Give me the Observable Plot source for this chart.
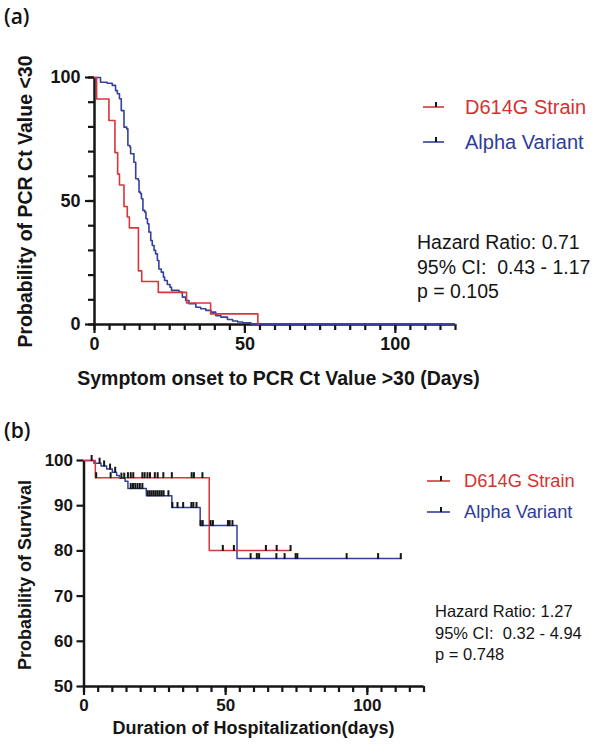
<!DOCTYPE html>
<html>
<head>
<meta charset="utf-8">
<script src="https://cdn.jsdelivr.net/npm/d3@7"></script>
<script src="https://cdn.jsdelivr.net/npm/@observablehq/plot@0.6"></script>
<style>
  body { margin: 0; background: #fff; }
  #wrap { position: relative; width: 600px; height: 755px; overflow: hidden; font-family: "Liberation Sans", Arial, sans-serif; }
  .abs { position: absolute; white-space: pre; }
  .panel { font-family: "Open Sans", "Liberation Sans", sans-serif; font-weight: 600; font-size: 21px; color: #111; }
</style>
</head>
<body>
<div id="wrap"></div>
<script>
// ---------- Panel (a): Symptom onset to PCR Ct > 30 ----------
const aRedDays  = [0, 0.7, 4.8, 6.8, 7.7, 8.3, 9.8, 10.9, 11.6, 14.6, 15.7, 21.2, 30.6, 38.6, 54.3];
const aRedSurv  = [100, 91.3, 82.6, 69.6, 60.9, 56.5, 47.8, 43.5, 39.1, 21.7, 17.4, 13.0, 8.7, 4.3, 0];
const aBlueDays = [0, 2, 4.2, 5.9, 7, 7.6, 8.3, 8.9, 9.8, 10.7, 11.1, 11.8, 12, 13.1, 13.7, 14.6, 14.8, 15.3, 15.6, 16.1, 16.7, 17.1, 17.6, 18.1, 18.7, 19.2, 19.8, 20.3, 20.9, 21.4, 22.2, 22.9, 23.3, 24.2, 25.1, 25.6, 28.1, 29.2, 30.3, 31.4, 33.7, 35.3, 37, 38.7, 40.3, 42, 44.2, 45.9, 47.6, 49.2, 52, 120];
const aBlueSurv = [100, 98.1, 97.7, 96.8, 94.7, 93.4, 91.4, 86.6, 79.9, 79.2, 72.5, 71.8, 69.1, 65.7, 59, 58.3, 53.6, 52.9, 50.9, 46.2, 45.5, 42.8, 40.8, 37.4, 34, 32, 30, 28.6, 25.9, 22.5, 21.2, 19.2, 17.8, 16.2, 15.1, 13.8, 13.1, 11.1, 9.7, 8.4, 7.0, 6.4, 5.7, 5.0, 3.6, 3.0, 2.0, 1.4, 1.0, 0.7, 0, 0];
const aXTicks = [0, 50, 100];
const aXMinor = [0, 5, 10, 15, 20, 25, 30, 35, 40, 45, 50, 55, 60, 65, 70, 75, 80, 85, 90, 95, 100, 105, 110, 115, 120];
const aYTicks = [0, 50, 100];
const aYMinor = [0, 10, 20, 30, 40, 50, 60, 70, 80, 90, 100];
const aStats = ["Hazard Ratio: 0.71", "95% CI:  0.43 - 1.17", "p = 0.105"];

// ---------- Panel (b): Survival during hospitalization ----------
const bRedDays  = [0, 4.0, 44.2, 73];
const bRedSurv  = [100, 96.2, 80.1, 80.1];
const bBlueDays = [0, 3.5, 6, 8, 10, 11.5, 12.5, 14.5, 15.5, 22, 31, 41, 54, 112];
const bBlueSurv = [100, 99.4, 98.8, 98.1, 97.4, 96.7, 96.1, 95.4, 93.8, 92.2, 89.6, 85.6, 78.3, 78.3];
const bRedCensor  = [4.3, 9.4, 15.5, 16.5, 17.4, 20.6, 21.4, 22.4, 23.3, 25, 26, 28, 31, 38, 38.8, 41.8, 49, 52.9, 64.2, 68, 72.9];
const bBlueCensor = [2.7, 5.5, 7.1, 9.2, 11, 13.2, 14.2, 16.5, 17.3, 18.1, 18.9, 19.7, 20.6, 22.5, 23.2, 23.9, 24.6, 25.3, 26, 26.7, 27.4, 28.1, 29.8, 31.2, 33, 35, 37.9, 38.6, 39.7, 41.2, 41.9, 44.7, 45.5, 50.8, 51.4, 52.4, 58.8, 61, 61.8, 67.9, 70.8, 74.7, 75.3, 92.7, 103.8, 111.8];
const bXTicks = [0, 50, 100];
const bXMinor = [0, 5, 10, 15, 20, 25, 30, 35, 40, 45, 50, 55, 60, 65, 70, 75, 80, 85, 90, 95, 100, 105, 110, 115, 120];
const bYTicks = [50, 60, 70, 80, 90, 100];
const bStats = ["Hazard Ratio: 1.27", "95% CI:  0.32 - 4.94", "p = 0.748"];

const seriesNames = ["D614G Strain", "Alpha Variant"];
const RED = "#d7363a", BLUE = "#33409c";
const RED_TXT = "#d5322f", BLUE_TXT = "#2e3c98";
const INK = "#151515";

function steps(days, surv) { return days.map((d, i) => ({day: d, surv: surv[i]})); }
function survAt(days, surv, t) { let v = surv[0]; for (let i = 0; i < days.length; i++) if (days[i] <= t) v = surv[i]; return v; }

const FONT = '"Liberation Sans", Arial, Helvetica, sans-serif';
const wrap = document.getElementById("wrap");

function addDiv(html, css, cls = "abs") {
  const d = document.createElement("div");
  d.className = cls;
  d.style.cssText = css;
  d.innerHTML = html;
  wrap.appendChild(d);
  return d;
}

// Layout: the frame is extended by `ext` px left of / below the axis lines so tick marks lie inside it.
function layout(c) {
  const pxPerX = (c.rightPx - c.axisLeftPx) / (c.xDomain[1] - c.xDomain[0]);
  const pxPerY = (c.axisBottomPx - c.topPx) / (c.yDomain[1] - c.yDomain[0]);
  const x0 = c.xDomain[0], y0 = c.yDomain[0];
  const L = {
    width: c.width, height: c.height,
    marginLeft: c.axisLeftPx - c.ext, marginRight: c.width - c.rightPx,
    marginTop: c.topPx, marginBottom: c.height - (c.axisBottomPx + c.ext),
    xDom: [x0 - c.ext / pxPerX, c.xDomain[1]],
    yDom: [y0 - c.ext / pxPerY, c.yDomain[1]]
  };
  L.xt = (vals, len) => Plot.ruleX(vals.map(v => ({v, s: y0})), {x: "v", y1: "s", y2: "s", insetTop: 0, insetBottom: -len, stroke: INK, strokeWidth: 2.2});
  L.yt = (vals, len) => Plot.ruleY(vals.map(v => ({v, s: x0})), {y: "v", x1: "s", x2: "s", insetLeft: -len, insetRight: 0, stroke: INK, strokeWidth: 2.2});
  L.axes = [
    Plot.ruleX([x0], {y1: y0, y2: c.yDomain[1], strokeWidth: 2.5, stroke: INK}),
    Plot.ruleY([y0], {x1: x0, x2: c.xDomain[1], strokeWidth: 2.5, stroke: INK})
  ];
  return L;
}

// ---------- Plot (a) ----------
const A = layout({width: 600, height: 400, axisLeftPx: 94, axisBottomPx: 324, rightPx: 455, topPx: 77, xDomain: [0, 120], yDomain: [0, 100], ext: 9});
const plotA = Plot.plot({
  width: A.width, height: A.height,
  marginLeft: A.marginLeft, marginRight: A.marginRight, marginTop: A.marginTop, marginBottom: A.marginBottom,
  x: {domain: A.xDom, label: null},
  y: {domain: A.yDom, label: null},
  style: {fontFamily: FONT, fontSize: "18px", color: INK, background: "transparent", overflow: "visible"},
  marks: [
    Plot.axisX({ticks: aXTicks, tickSize: 0, tickPadding: 4, fontWeight: "bold", fontSize: 18, label: null}),
    Plot.axisY({ticks: aYTicks, tickSize: 0, tickPadding: 5, fontWeight: "bold", fontSize: 18, label: null}),
    ...A.axes,
    A.xt(aXMinor, 6),
    A.xt(aXTicks, 9),
    A.yt(aYMinor, 6),
    A.yt(aYTicks, 9),
    Plot.line(steps(aBlueDays, aBlueSurv), {x: "day", y: "surv", stroke: BLUE, strokeWidth: 1.6, curve: "step-after"}),
    Plot.line(steps(aRedDays, aRedSurv), {x: "day", y: "surv", stroke: RED, strokeWidth: 1.6, curve: "step-after"}),
    Plot.text(["Symptom onset to PCR Ct Value >30 (Days)"], {frameAnchor: "bottom", dy: 51, dx: 8, fontWeight: "bold", fontSize: 19.5, fill: INK}),
    Plot.text(["Probability of PCR Ct Value <30"], {frameAnchor: "left", dx: -60, dy: -4, rotate: -90, textAnchor: "middle", lineAnchor: "middle", fontWeight: "bold", fontSize: 19.5, fill: INK})
  ]
});
const holderA = document.createElement("div");
holderA.style.cssText = "position:absolute;left:0;top:0;";
holderA.appendChild(plotA);
wrap.appendChild(holderA);

// ---------- Plot (b) ----------
const B = layout({width: 600, height: 355, axisLeftPx: 83.5, axisBottomPx: 286, rightPx: 423.5, topPx: 60, xDomain: [0, 120], yDomain: [50, 100], ext: 9});
const bCens = [
  ...bRedCensor.map(t => ({day: t, surv: survAt(bRedDays, bRedSurv, t)})),
  ...bBlueCensor.map(t => ({day: t, surv: survAt(bBlueDays, bBlueSurv, t)}))
];
const plotB = Plot.plot({
  width: B.width, height: B.height,
  marginLeft: B.marginLeft, marginRight: B.marginRight, marginTop: B.marginTop, marginBottom: B.marginBottom,
  x: {domain: B.xDom, label: null},
  y: {domain: B.yDom, label: null},
  style: {fontFamily: FONT, fontSize: "17px", color: INK, background: "transparent", overflow: "visible"},
  marks: [
    Plot.axisX({ticks: bXTicks, tickSize: 0, tickPadding: 3, fontWeight: "bold", fontSize: 17, label: null}),
    Plot.axisY({ticks: bYTicks, tickSize: 0, tickPadding: 2, fontWeight: "bold", fontSize: 17, label: null}),
    ...B.axes,
    B.xt(bXMinor, 6),
    B.xt(bXTicks, 9),
    B.yt(bYTicks, 7),
    Plot.line(steps(bBlueDays, bBlueSurv), {x: "day", y: "surv", stroke: BLUE, strokeWidth: 1.5, curve: "step-after"}),
    Plot.line(steps(bRedDays, bRedSurv), {x: "day", y: "surv", stroke: RED, strokeWidth: 1.5, curve: "step-after"}),
    Plot.ruleX(bCens, {x: "day", y1: "surv", y2: "surv", insetTop: -5, insetBottom: -1, stroke: INK, strokeWidth: 2}),
    Plot.text(["Duration of Hospitalization(days)"], {frameAnchor: "bottom", dy: 38, dx: 4, fontWeight: "bold", fontSize: 18, fill: INK}),
    Plot.text(["Probability of Survival"], {frameAnchor: "left", dx: -49.5, dy: -3, rotate: -90, textAnchor: "middle", lineAnchor: "middle", fontWeight: "bold", fontSize: 18, fill: INK})
  ]
});
const holderB = document.createElement("div");
holderB.style.cssText = "position:absolute;left:0;top:400px;";
holderB.appendChild(plotB);
wrap.appendChild(holderB);

// ---------- Panel letters ----------
addDiv("(a)", "left:4px;top:2px;line-height:28px;", "abs panel");
addDiv("(b)", "left:4px;top:416px;line-height:28px;", "abs panel");

// ---------- Legends ----------
function legendSymbol(color, w) {
  const tx = Math.round(w * 0.62);
  return `<svg width="${w}" height="20" style="display:block"><line x1="0" x2="${w}" y1="11" y2="11" stroke="${color}" stroke-width="1.6"/><line x1="${tx}" x2="${tx}" y1="6" y2="11" stroke="${INK}" stroke-width="2"/></svg>`;
}
function legend(xLine, wLine, xText, yCenters, fontSize) {
  const cols = [[RED, RED_TXT], [BLUE, BLUE_TXT]];
  seriesNames.forEach((name, i) => {
    addDiv(legendSymbol(cols[i][0], wLine), `left:${xLine}px;top:${yCenters[i] - 11}px;`);
    addDiv(name, `left:${xText}px;top:${yCenters[i] - fontSize * 0.6}px;font-size:${fontSize}px;line-height:${fontSize * 1.2}px;color:${cols[i][1]};font-family:${FONT};`);
  });
}
legend(423, 21, 465, [107, 142], 20);
legend(427, 23, 464, [481, 512], 18.3);

// ---------- Statistics ----------
function stats(lines, x, y0, lh, fontSize) {
  lines.forEach((s, i) => {
    addDiv(s, `left:${x}px;top:${y0 + i * lh - fontSize * 0.6}px;font-size:${fontSize}px;line-height:${fontSize * 1.2}px;color:${INK};font-family:${FONT};`);
  });
}
stats(aStats, 417, 243, 24.5, 19.5);
stats(bStats, 435, 612, 21.5, 16.5);
</script>
</body>
</html>
